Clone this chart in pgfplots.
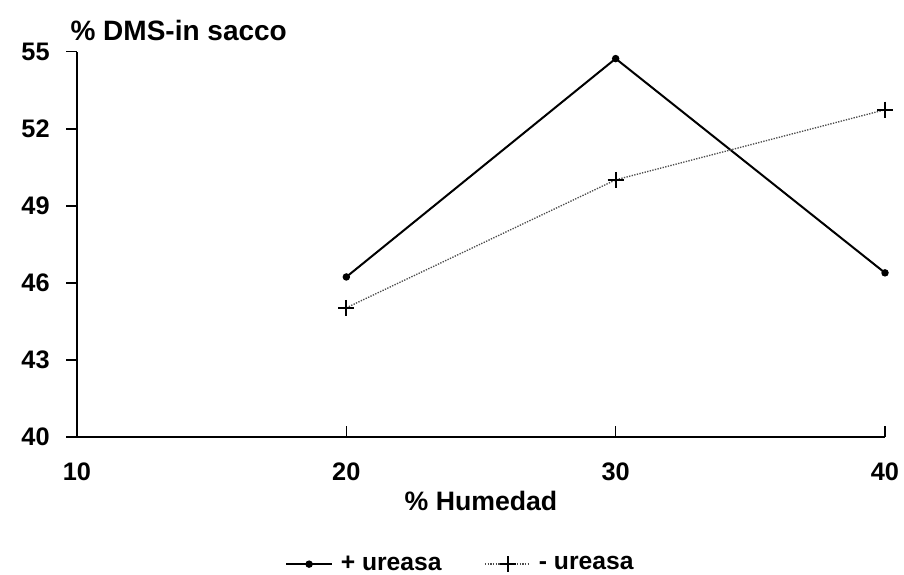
\documentclass[border=0pt]{standalone}
\usepackage{fontspec}
\setmainfont{Liberation Sans}
\usepackage{pgfplots}
\pgfplotsset{compat=1.18}
\begin{document}
\begin{tikzpicture}
\path[use as bounding box] (-57.75pt,-103.5pt) rectangle (620.25pt,327.75pt);
\begin{axis}[
  scale only axis,
  width=606pt, height=289pt,
  xmin=10, xmax=40, ymin=40, ymax=55,
  xtick={10,20,30,40}, ytick={40,43,46,49,52,55},
  axis lines=left,
  axis line style={line width=1.4pt, -},
  x axis line style={-}, y axis line style={-},
  font=\fontsize{19}{22}\selectfont\bfseries,
  /pgf/number format/assume math mode=true,
  xtick style={line width=1.2pt, black},
  ytick style={line width=1.2pt, black},
  xtick align=inside, ytick align=outside,
  major tick length=8pt,
  xticklabel style={anchor=center, yshift=-26pt, font=\fontsize{19}{22}\selectfont\bfseries},
  yticklabel style={anchor=east, xshift=-9pt, font=\fontsize{19}{22}\selectfont\bfseries},
  xlabel={\% Humedad},
  xlabel style={at={(axis description cs:0.5,-0.166)}, anchor=center, font=\fontsize{20}{23}\selectfont\bfseries},
  legend style={at={(0.475,-0.33)}, anchor=center, draw=none, legend columns=2,
    font=\fontsize{18.5}{22}\selectfont\bfseries,
    /tikz/every odd column/.append style={column sep=4pt},
    /tikz/every even column/.append style={column sep=30pt}},
  legend image code/.code={\draw[#1] (0pt,0pt) -- (34pt,0pt); \draw[#1, only marks] plot coordinates {(17pt,0pt)};},
  clip=false,
]
\addplot[black, line width=1.5pt, mark=*, mark size=2pt] coordinates {(20,46.23) (30,54.73) (40,46.39)};
\addlegendentry{+ ureasa}
\addplot[black!70, densely dotted, line width=1pt, mark=+, mark size=6pt, mark options={solid, black, line width=1.5pt}] coordinates {(20,45.03) (30,50.01) (40,52.74)};
\addlegendentry{- ureasa}
\node[anchor=west, inner sep=0pt, font=\fontsize{21}{24}\selectfont\bfseries] at (rel axis cs:0,1) [yshift=16pt, xshift=-5pt] {\% DMS-in sacco};
\end{axis}
\end{tikzpicture}
\end{document}
